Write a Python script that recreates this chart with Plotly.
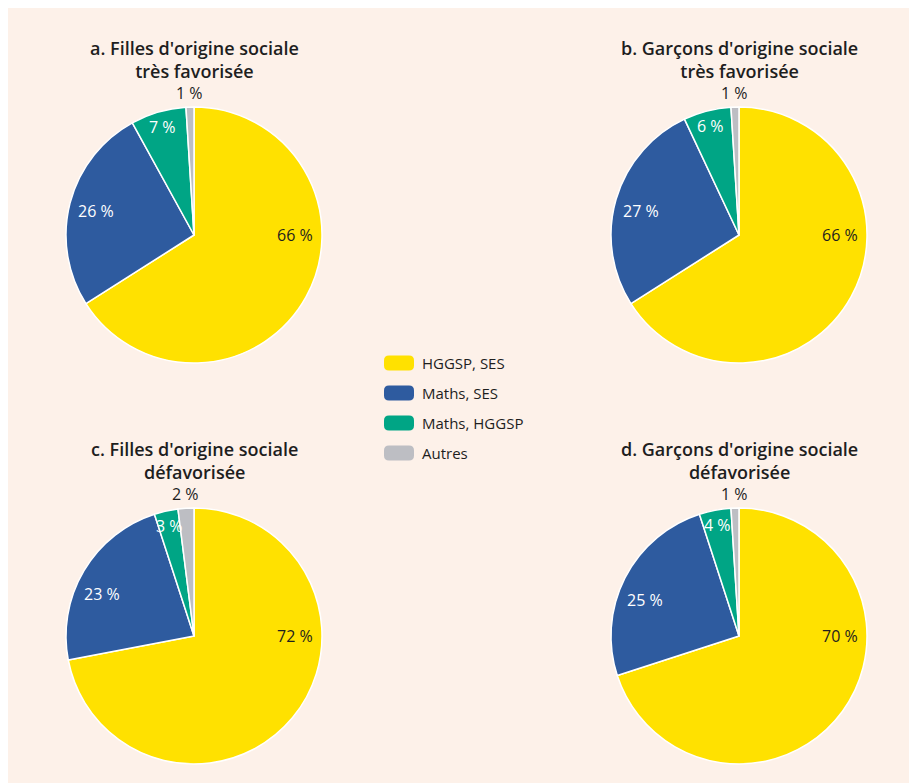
import math
import plotly.graph_objects as go

W, H = 917, 783
OFF = 8  # the page body margin shifts the figure by 8 px

categories = ["HGGSP, SES", "Maths, SES", "Maths, HGGSP", "Autres"]
colors = ["#FFE100", "#2E5B9F", "#00A585", "#BDBEC3"]
label_colors = ["#1E1E1E", "white", "white", "#1E1E1E"]

panel_titles = [
    "a. Filles d'origine sociale<br>très favorisée",
    "b. Garçons d'origine sociale<br>très favorisée",
    "c. Filles d'origine sociale<br>défavorisée",
    "d. Garçons d'origine sociale<br>défavorisée",
]
values_a = [66, 26, 7, 1]
values_b = [66, 27, 6, 1]
values_c = [72, 23, 3, 2]
values_d = [70, 25, 4, 1]
panel_values = [values_a, values_b, values_c, values_d]

# pie centres and radius, in screen pixels
centres = [(194, 235), (739, 235), (194, 636), (739, 636)]
R = 128
TXT = "#1E1E1E"
FONT = "Open Sans"


def px_x(x):
    return (x - OFF) / W


def px_y(y):
    return 1 - (y - OFF) / H


fig = go.Figure()

for title, vals, (cx, cy) in zip(panel_titles, panel_values, centres):
    fig.add_trace(go.Pie(
        labels=categories, values=vals, sort=False, direction="clockwise", rotation=0,
        marker=dict(colors=colors, line=dict(color="white", width=1.5)),
        textinfo="none", hoverinfo="label+value", showlegend=False,
        domain=dict(x=[px_x(cx - R), px_x(cx + R)], y=[px_y(cy + R), px_y(cy - R)]),
    ))
    fig.add_annotation(x=cx, y=cy - R - 22, xref="x", yref="y",
                       text=title, showarrow=False, yanchor="bottom",
                       font=dict(size=18, color=TXT, family=FONT, weight=600))

    # value labels: big slices get the middle of their arc, kept off the top
    # of the pie and to at most a half turn; small ones sit near the rim
    total = sum(vals)
    start = 0.0
    for i, v in enumerate(vals):
        a0 = start / total * 360
        a1 = (start + v) / total * 360
        start += v
        if v >= 10:
            b1 = min(a1, a0 + 180, 330)
            mid = (a0 + b1) / 2
            rr = 0.79 * R
        else:
            mid = (a0 + a1) / 2
            rr = R + 14 if v <= 2 else 0.88 * R
        t = math.radians(mid)
        fig.add_annotation(x=cx + rr * math.sin(t), y=cy - rr * math.cos(t),
                           xref="x", yref="y", text=f"{v} %", showarrow=False,
                           font=dict(size=16, color=label_colors[i], family=FONT))

# custom legend with rounded swatches
lx, ly0, step = 384, 363, 30
for i, (cat, col) in enumerate(zip(categories, colors)):
    y = ly0 + i * step
    x0, x1, y0, y1, r = lx, lx + 30, y - 7.5, y + 7.5, 5
    path = (f"M {x0 + r},{y0} L {x1 - r},{y0} Q {x1},{y0} {x1},{y0 + r} L {x1},{y1 - r} "
            f"Q {x1},{y1} {x1 - r},{y1} L {x0 + r},{y1} Q {x0},{y1} {x0},{y1 - r} "
            f"L {x0},{y0 + r} Q {x0},{y0} {x0 + r},{y0} Z")
    fig.add_shape(type="path", path=path, xref="x", yref="y",
                  fillcolor=col, line=dict(width=0))
    fig.add_annotation(x=lx + 36, y=y, xref="x", yref="y", text=cat, showarrow=False,
                       xanchor="left", font=dict(size=15, color=TXT, family=FONT))

fig.update_layout(
    width=W, height=H,
    margin=dict(l=0, r=0, t=0, b=0),
    paper_bgcolor="#FDF1E9", plot_bgcolor="rgba(0,0,0,0)",
    xaxis=dict(range=[OFF, OFF + W], visible=False, fixedrange=True),
    yaxis=dict(range=[OFF + H, OFF], visible=False, fixedrange=True),
    font=dict(family=FONT, color=TXT),
)

fig.write_html("out.html")
